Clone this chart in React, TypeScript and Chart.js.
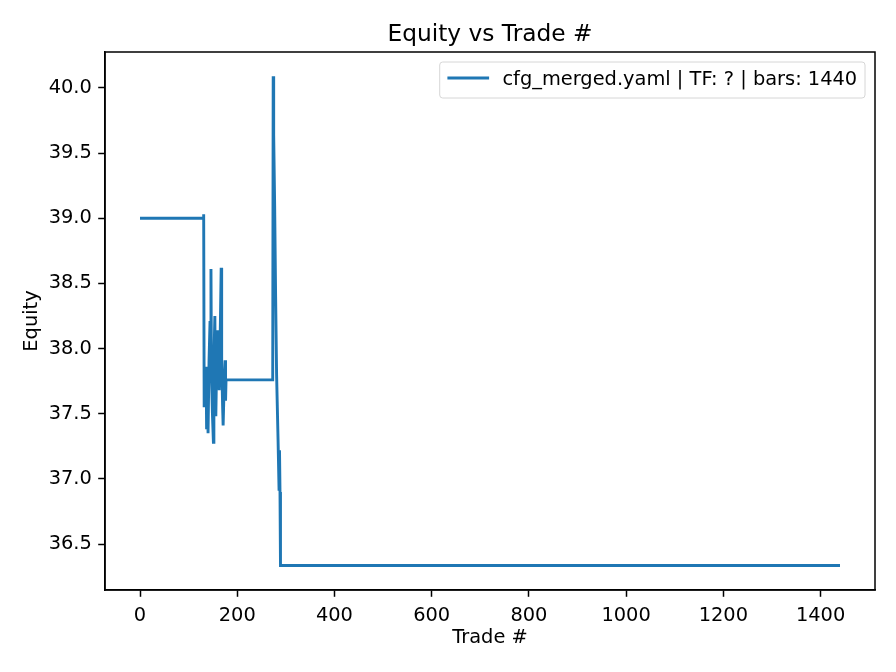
import { useEffect, useRef } from 'react';
import { Chart, registerables } from 'chart.js';

Chart.register(...registerables);

const chartTitle = 'Equity vs Trade #';
const seriesLabel = 'cfg_merged.yaml | TF: ? | bars: 1440';
const xAxisLabel = 'Trade #';
const yAxisLabel = 'Equity';

const tradeNumbers = [
  0, 130, 131, 132, 134, 136, 137, 139, 140, 142, 144, 146, 147, 149, 151, 152, 154, 155, 156, 158,
  160, 161, 163, 165, 167, 168, 170, 171, 173, 175, 176, 177, 273, 274, 275, 277, 279, 281, 284, 286,
  287, 288, 289, 1440,
];
const equityValues = [
  39.0, 39.0, 39.03, 37.55, 37.7, 37.86, 37.38, 37.6, 37.35, 37.9, 38.2, 38.61, 37.8, 37.5, 37.28, 37.9,
  38.25, 37.7, 37.48, 37.95, 38.14, 37.8, 37.68, 38.1, 38.62, 37.9, 37.55, 37.41, 37.7, 37.91, 37.6, 37.76,
  37.76, 40.09, 39.64, 39.1, 38.4, 37.8, 37.3, 36.92, 37.22, 36.9, 36.335, 36.335,
];

const xTickValues = [0, 200, 400, 600, 800, 1000, 1200, 1400];
const yTickValues = [36.5, 37.0, 37.5, 38.0, 38.5, 39.0, 39.5, 40.0];

const FONT = 'DejaVu Sans';
const LINE_COLOR = '#1f77b4';
const BASE = 19.4;

const framePlugin = {
  id: 'frame',
  afterDraw(chart: any) {
    const { ctx, chartArea: ca } = chart;
    ctx.save();
    ctx.strokeStyle = '#000';
    ctx.lineWidth = 1.5;
    ctx.strokeRect(ca.left, ca.top, ca.right - ca.left, ca.bottom - ca.top);
    ctx.restore();
  },
};

const titlePlugin = {
  id: 'mplTitle',
  afterDraw(chart: any) {
    const { ctx, chartArea: ca } = chart;
    ctx.save();
    ctx.font = `23.3px "${FONT}"`;
    ctx.fillStyle = '#000';
    ctx.textAlign = 'center';
    ctx.textBaseline = 'alphabetic';
    ctx.fillText(chartTitle, (ca.left + ca.right) / 2, 41);
    ctx.restore();
  },
};

const legendPlugin = {
  id: 'mplLegend',
  afterDraw(chart: any) {
    const { ctx, chartArea: ca } = chart;
    ctx.save();
    ctx.font = `${BASE}px "${FONT}"`;
    const tw = ctx.measureText(seriesLabel).width;
    const w = 7.7 + 41.7 + 13.3 + tw + 7.8;
    const h = 36;
    const right = ca.right - 10;
    const left = right - w;
    const top = ca.top + 10;
    const r = 3;
    ctx.beginPath();
    ctx.moveTo(left + r, top);
    ctx.lineTo(right - r, top);
    ctx.arcTo(right, top, right, top + r, r);
    ctx.lineTo(right, top + h - r);
    ctx.arcTo(right, top + h, right - r, top + h, r);
    ctx.lineTo(left + r, top + h);
    ctx.arcTo(left, top + h, left, top + h - r, r);
    ctx.lineTo(left, top + r);
    ctx.arcTo(left, top, left + r, top, r);
    ctx.closePath();
    ctx.fillStyle = 'rgba(255,255,255,0.8)';
    ctx.fill();
    ctx.strokeStyle = '#d6d6d6';
    ctx.lineWidth = 1;
    ctx.stroke();
    const cy = top + 16;
    ctx.beginPath();
    ctx.moveTo(left + 7.7, cy);
    ctx.lineTo(left + 7.7 + 41.7, cy);
    ctx.strokeStyle = LINE_COLOR;
    ctx.lineWidth = 2.9;
    ctx.stroke();
    ctx.fillStyle = '#000';
    ctx.textAlign = 'left';
    ctx.textBaseline = 'alphabetic';
    ctx.fillText(seriesLabel, left + 7.7 + 41.7 + 13.3, cy + 7);
    ctx.restore();
  },
};

export default function App() {
  const canvasRef = useRef<HTMLCanvasElement | null>(null);

  useEffect(() => {
    const canvas = canvasRef.current;
    if (!canvas) return;
    const points = tradeNumbers.map((x, i) => ({ x, y: equityValues[i] }));
    const tickFont = { family: FONT, size: BASE };
    const chart = new Chart(canvas, {
      type: 'line',
      data: {
        datasets: [
          {
            label: seriesLabel,
            data: points,
            borderColor: LINE_COLOR,
            backgroundColor: LINE_COLOR,
            borderWidth: 2.9,
            pointRadius: 0,
            tension: 0,
            fill: false,
          },
        ],
      },
      options: {
        animation: false,
        responsive: false,
        devicePixelRatio: 1,
        layout: { padding: { top: 52, right: 21, left: 0, bottom: 0 } },
        plugins: {
          legend: { display: false },
          title: { display: false },
          tooltip: { enabled: false },
        },
        scales: {
          x: {
            type: 'linear',
            min: -72,
            max: 1512,
            afterBuildTicks: (s: any) => {
              s.ticks = xTickValues.map((v) => ({ value: v }));
            },
            afterFit: (s: any) => {
              s.height = 82;
            },
            ticks: {
              autoSkip: false,
              maxRotation: 0,
              minRotation: 0,
              color: '#000',
              font: tickFont,
              padding: 7.5,
              callback: (v: any) => String(v),
            },
            grid: {
              display: true,
              drawOnChartArea: false,
              drawTicks: true,
              tickLength: 6.8,
              tickWidth: 1.5,
              tickColor: '#000',
            },
            border: { display: true, color: '#000', width: 1.5 },
            title: {
              display: true,
              text: xAxisLabel,
              color: '#000',
              font: { family: FONT, size: BASE },
              padding: { top: 0, bottom: 22.5 },
            },
          },
          y: {
            type: 'linear',
            min: 36.147,
            max: 40.276,
            afterBuildTicks: (s: any) => {
              s.ticks = yTickValues.map((v) => ({ value: v }));
            },
            afterFit: (s: any) => {
              s.width = 105;
            },
            ticks: {
              autoSkip: false,
              color: '#000',
              font: tickFont,
              padding: 6.4,
              callback: (v: any) => Number(v).toFixed(1),
            },
            grid: {
              display: true,
              drawOnChartArea: false,
              drawTicks: true,
              tickLength: 6.8,
              tickWidth: 1.5,
              tickColor: '#000',
            },
            border: { display: true, color: '#000', width: 1.5 },
            title: {
              display: true,
              text: yAxisLabel,
              color: '#000',
              font: { family: FONT, size: BASE },
              padding: { top: 20.5, bottom: 0 },
            },
          },
        },
      },
      plugins: [framePlugin, titlePlugin, legendPlugin],
    } as any);
    return () => chart.destroy();
  }, []);

  return (
    <div style={{ position: 'absolute', left: 0, top: 0, width: 896, height: 672, background: '#fff' }}>
      <canvas ref={canvasRef} width={896} height={672} style={{ width: 896, height: 672 }} />
    </div>
  );
}
